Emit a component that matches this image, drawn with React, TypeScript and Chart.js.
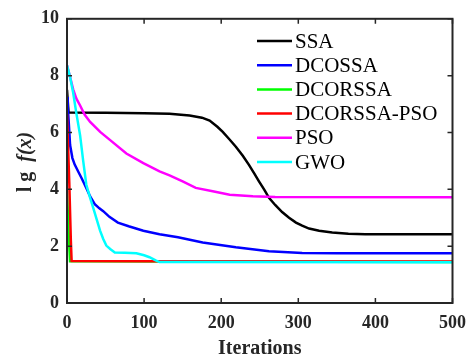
import React, { useEffect, useRef } from "react";
import { Chart, registerables } from "chart.js";

Chart.register(...registerables);

const seriesNames = ["SSA", "DCOSSA", "DCORSSA", "DCORSSA-PSO", "PSO", "GWO"];
const seriesColors = ["#000000", "#0000ff", "#00ff00", "#ff0000", "#ff00ff", "#00ffff"];

const ssa: number[][] = [[0,7.5],[2,6.7],[50,6.69],[100,6.68],[133,6.66],[159,6.6],[175,6.52],[185,6.42],[195,6.2],[202,6.02],[210,5.78],[219,5.5],[228,5.18],[236,4.86],[243,4.55],[249,4.28],[256,3.98],[262,3.7],[270,3.45],[279,3.2],[288,3.0],[297,2.83],[305,2.72],[314,2.62],[327,2.54],[344,2.48],[365,2.44],[387,2.42],[500,2.42]];
const dcossa: number[][] = [[0,7.25],[1,6.9],[2,6.48],[4,5.56],[7,5.1],[10,4.87],[15,4.6],[19,4.39],[25,4.05],[30,3.75],[36,3.48],[42,3.33],[47,3.23],[55,3.03],[66,2.83],[80,2.7],[99,2.54],[120,2.42],[144,2.31],[176,2.13],[219,1.96],[262,1.82],[305,1.76],[350,1.75],[500,1.75]];
const dcorssa: number[][] = [[0,3.95],[2,2.5],[4,1.47],[500,1.44]];
const dcorssaPso: number[][] = [[0,6.65],[3,4.2],[5,2.2],[6,1.48],[100,1.47],[500,1.46]];
const pso: number[][] = [[0,8.36],[4,7.95],[8,7.52],[12,7.2],[17,6.95],[23,6.62],[30,6.37],[43,6.02],[56,5.73],[77,5.26],[99,4.92],[120,4.63],[133,4.49],[150,4.28],[167,4.05],[189,3.93],[211,3.81],[241,3.76],[270,3.73],[500,3.72]];
const gwo: number[][] = [[0,8.36],[4,7.95],[8,7.4],[12,6.7],[17,5.9],[21,5.0],[25,4.17],[30,3.7],[34,3.35],[43,2.54],[47,2.25],[51,2.02],[56,1.9],[62,1.78],[75,1.77],[90,1.75],[100,1.68],[107,1.61],[115,1.5],[120,1.44],[500,1.43]];

const seriesData = [ssa, dcossa, dcorssa, dcorssaPso, pso, gwo];

const xTicksMax = 500;
const yTicksMax = 10;

const AXIS_COLOR = "#262626";
const SERIF = "'Liberation Serif', 'Times New Roman', serif";

const decorPlugin = {
  id: "decor",
  afterDraw(chart: any) {
    const { ctx, chartArea } = chart;
    const { left, right, top, bottom } = chartArea;
    const xs = chart.scales.x;
    const ys = chart.scales.y;
    ctx.save();
    ctx.strokeStyle = AXIS_COLOR;
    ctx.lineWidth = 2;
    ctx.strokeRect(left, top, right - left, bottom - top);
    const tl = 5;
    ctx.lineWidth = 1.5;
    ctx.beginPath();
    xs.ticks.forEach((t: any) => {
      const px = xs.getPixelForValue(t.value);
      ctx.moveTo(px, bottom);
      ctx.lineTo(px, bottom - tl);
      ctx.moveTo(px, top);
      ctx.lineTo(px, top + tl);
    });
    ys.ticks.forEach((t: any) => {
      const py = ys.getPixelForValue(t.value);
      ctx.moveTo(left, py);
      ctx.lineTo(left + tl, py);
      ctx.moveTo(right, py);
      ctx.lineTo(right - tl, py);
    });
    ctx.stroke();

    // legend
    const lx0 = 257, lx1 = 292, ly0 = 41, dy = 24.2;
    ctx.font = `21px ${SERIF}`;
    ctx.textBaseline = "middle";
    ctx.textAlign = "left";
    seriesNames.forEach((name, i) => {
      const y = ly0 + i * dy;
      ctx.strokeStyle = seriesColors[i];
      ctx.lineWidth = 2.5;
      ctx.beginPath();
      ctx.moveTo(lx0, y);
      ctx.lineTo(lx1, y);
      ctx.stroke();
      ctx.fillStyle = "#000000";
      ctx.fillText(name, 295, y + 1);
    });

    // x title
    ctx.fillStyle = AXIS_COLOR;
    ctx.font = `bold 20px ${SERIF}`;
    ctx.textAlign = "center";
    ctx.textBaseline = "middle";
    ctx.fillText("Iterations", (left + right) / 2, 349);

    // y title
    ctx.translate(26, 162);
    ctx.rotate(-Math.PI / 2);
    const p1 = "l g  ";
    const p2 = "f(x)";
    ctx.font = `bold 20px ${SERIF}`;
    const w1 = ctx.measureText(p1).width;
    ctx.font = `italic bold 20px ${SERIF}`;
    const w2 = ctx.measureText(p2).width;
    const start = -(w1 + w2) / 2;
    ctx.textAlign = "left";
    ctx.font = `bold 20px ${SERIF}`;
    ctx.fillText(p1, start, 0);
    ctx.font = `italic bold 20px ${SERIF}`;
    ctx.fillText(p2, start + w1, 0);
    ctx.restore();
  },
};

export default function App() {
  const ref = useRef<HTMLCanvasElement | null>(null);
  useEffect(() => {
    if (!ref.current) return;
    const chart = new Chart(ref.current, {
      type: "line",
      data: {
        datasets: seriesNames.map((name, i) => ({
          label: name,
          data: seriesData[i] as any,
          borderColor: seriesColors[i],
          backgroundColor: seriesColors[i],
          borderWidth: 2.5,
          pointRadius: 0,
          tension: 0,
          fill: false,
          order: seriesNames.length - i,
        })),
      },
      options: {
        animation: false,
        responsive: false,
        layout: { padding: { left: 0, top: 15, right: 22, bottom: 0 } },
        plugins: {
          legend: { display: false },
          tooltip: { enabled: false },
        },
        scales: {
          x: {
            type: "linear",
            min: 0,
            max: xTicksMax,
            grid: { display: false, drawTicks: false },
            border: { display: false },
            ticks: {
              stepSize: 100,
              padding: 10,
              color: AXIS_COLOR,
              font: { family: SERIF, size: 18, weight: "bold" },
              maxRotation: 0,
            },
            afterFit: (s: any) => {
              s.height = 57;
            },
          },
          y: {
            type: "linear",
            min: 0,
            max: yTicksMax,
            grid: { display: false, drawTicks: false },
            border: { display: false },
            ticks: {
              stepSize: 2,
              padding: 8,
              color: AXIS_COLOR,
              font: { family: SERIF, size: 18, weight: "bold" },
            },
            afterFit: (s: any) => {
              s.width = 67;
            },
          },
        },
      },
      plugins: [decorPlugin],
    });
    return () => chart.destroy();
  }, []);
  return (
    <canvas
      ref={ref}
      width={476}
      height={360}
      style={{ position: "absolute", left: 0, top: 0, display: "block", background: "#fff" }}
    />
  );
}
